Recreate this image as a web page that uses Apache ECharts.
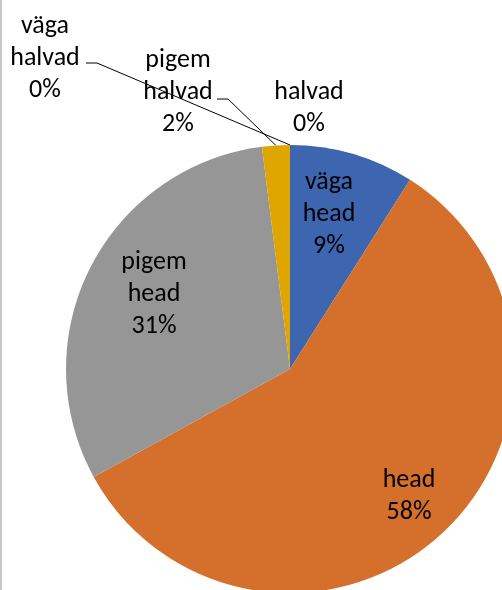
<!DOCTYPE html>
<html>
<head>
<meta charset="utf-8">
<script src="https://cdn.jsdelivr.net/npm/echarts@6/dist/echarts.min.js"></script>
<style>
  html, body { margin: 0; padding: 0; background: #fff; }
  #wrap { position: relative; width: 502px; height: 590px; overflow: hidden; }
  #chart { position: absolute; left: 0; top: 0; width: 502px; height: 590px; }
  #edge { position: absolute; left: 0; top: 0; width: 2px; height: 590px; background: #c8c8c8; }
</style>
</head>
<body>
<div id="wrap">
  <div id="chart"></div>
  <div id="edge"></div>
</div>
<script>
// Survey answers, share of respondents (%)
const categories = ['väga head', 'head', 'pigem head', 'pigem halvad', 'halvad', 'väga halvad'];
const shares = [9, 58, 31, 2, 0, 0];
const colors = ['#3e65af', '#d46f2c', '#969696', '#dfa600', '#5b9bd5', '#70ad47'];

// Label placement: centre of each text block, and optional elbow for the leader line
const labelSpots = {
  'väga head':    { x: 329, y: 214, inside: true },
  'head':         { x: 409, y: 496, inside: true },
  'pigem head':   { x: 154, y: 294, inside: true },
  'pigem halvad': { x: 178, y: 92,  elbow: [[228, 99], [217, 99]] },
  'halvad':       { x: 309, y: 108 },
  'väga halvad':  { x: 45,  y: 58,  elbow: [[97, 63], [86, 63]] }
};

const FONT = 'Carlito, Calibri, Lato, sans-serif';

const chart = echarts.init(document.getElementById('chart'), null, { renderer: 'canvas' });

const data = categories.map((name, i) => {
  const spot = labelSpots[name];
  return {
    name: name,
    value: shares[i],
    itemStyle: { color: colors[i] },
    label: { position: spot.inside ? 'inside' : 'outside' },
    labelLine: { show: !!spot.elbow }
  };
});

chart.setOption({
  animation: false,
  series: [{
    type: 'pie',
    center: [290, 369],
    radius: 224,
    startAngle: 90,
    clockwise: true,
    avoidLabelOverlap: false,
    stillShowZeroSum: true,
    minAngle: 0,
    data: data,
    itemStyle: { borderWidth: 0 },
    label: {
      show: true,
      color: '#000',
      fontFamily: FONT,
      fontSize: 26,
      lineHeight: 32,
      align: 'center',
      formatter: p => p.name.replace(' ', '\n') + '\n' + Math.round(p.percent) + '%'
    },
    labelLine: {
      show: true,
      length: 10,
      length2: 10,
      lineStyle: { color: '#000', width: 1 }
    },
    labelLayout: function (params) {
      const spot = labelSpots[categories[params.dataIndex]];
      const out = { x: spot.x, y: spot.y, align: 'center', verticalAlign: 'middle' };
      if (spot.elbow && params.labelLinePoints) {
        out.labelLinePoints = [params.labelLinePoints[0], spot.elbow[0], spot.elbow[1]];
      }
      return out;
    }
  }]
});
</script>
</body>
</html>
